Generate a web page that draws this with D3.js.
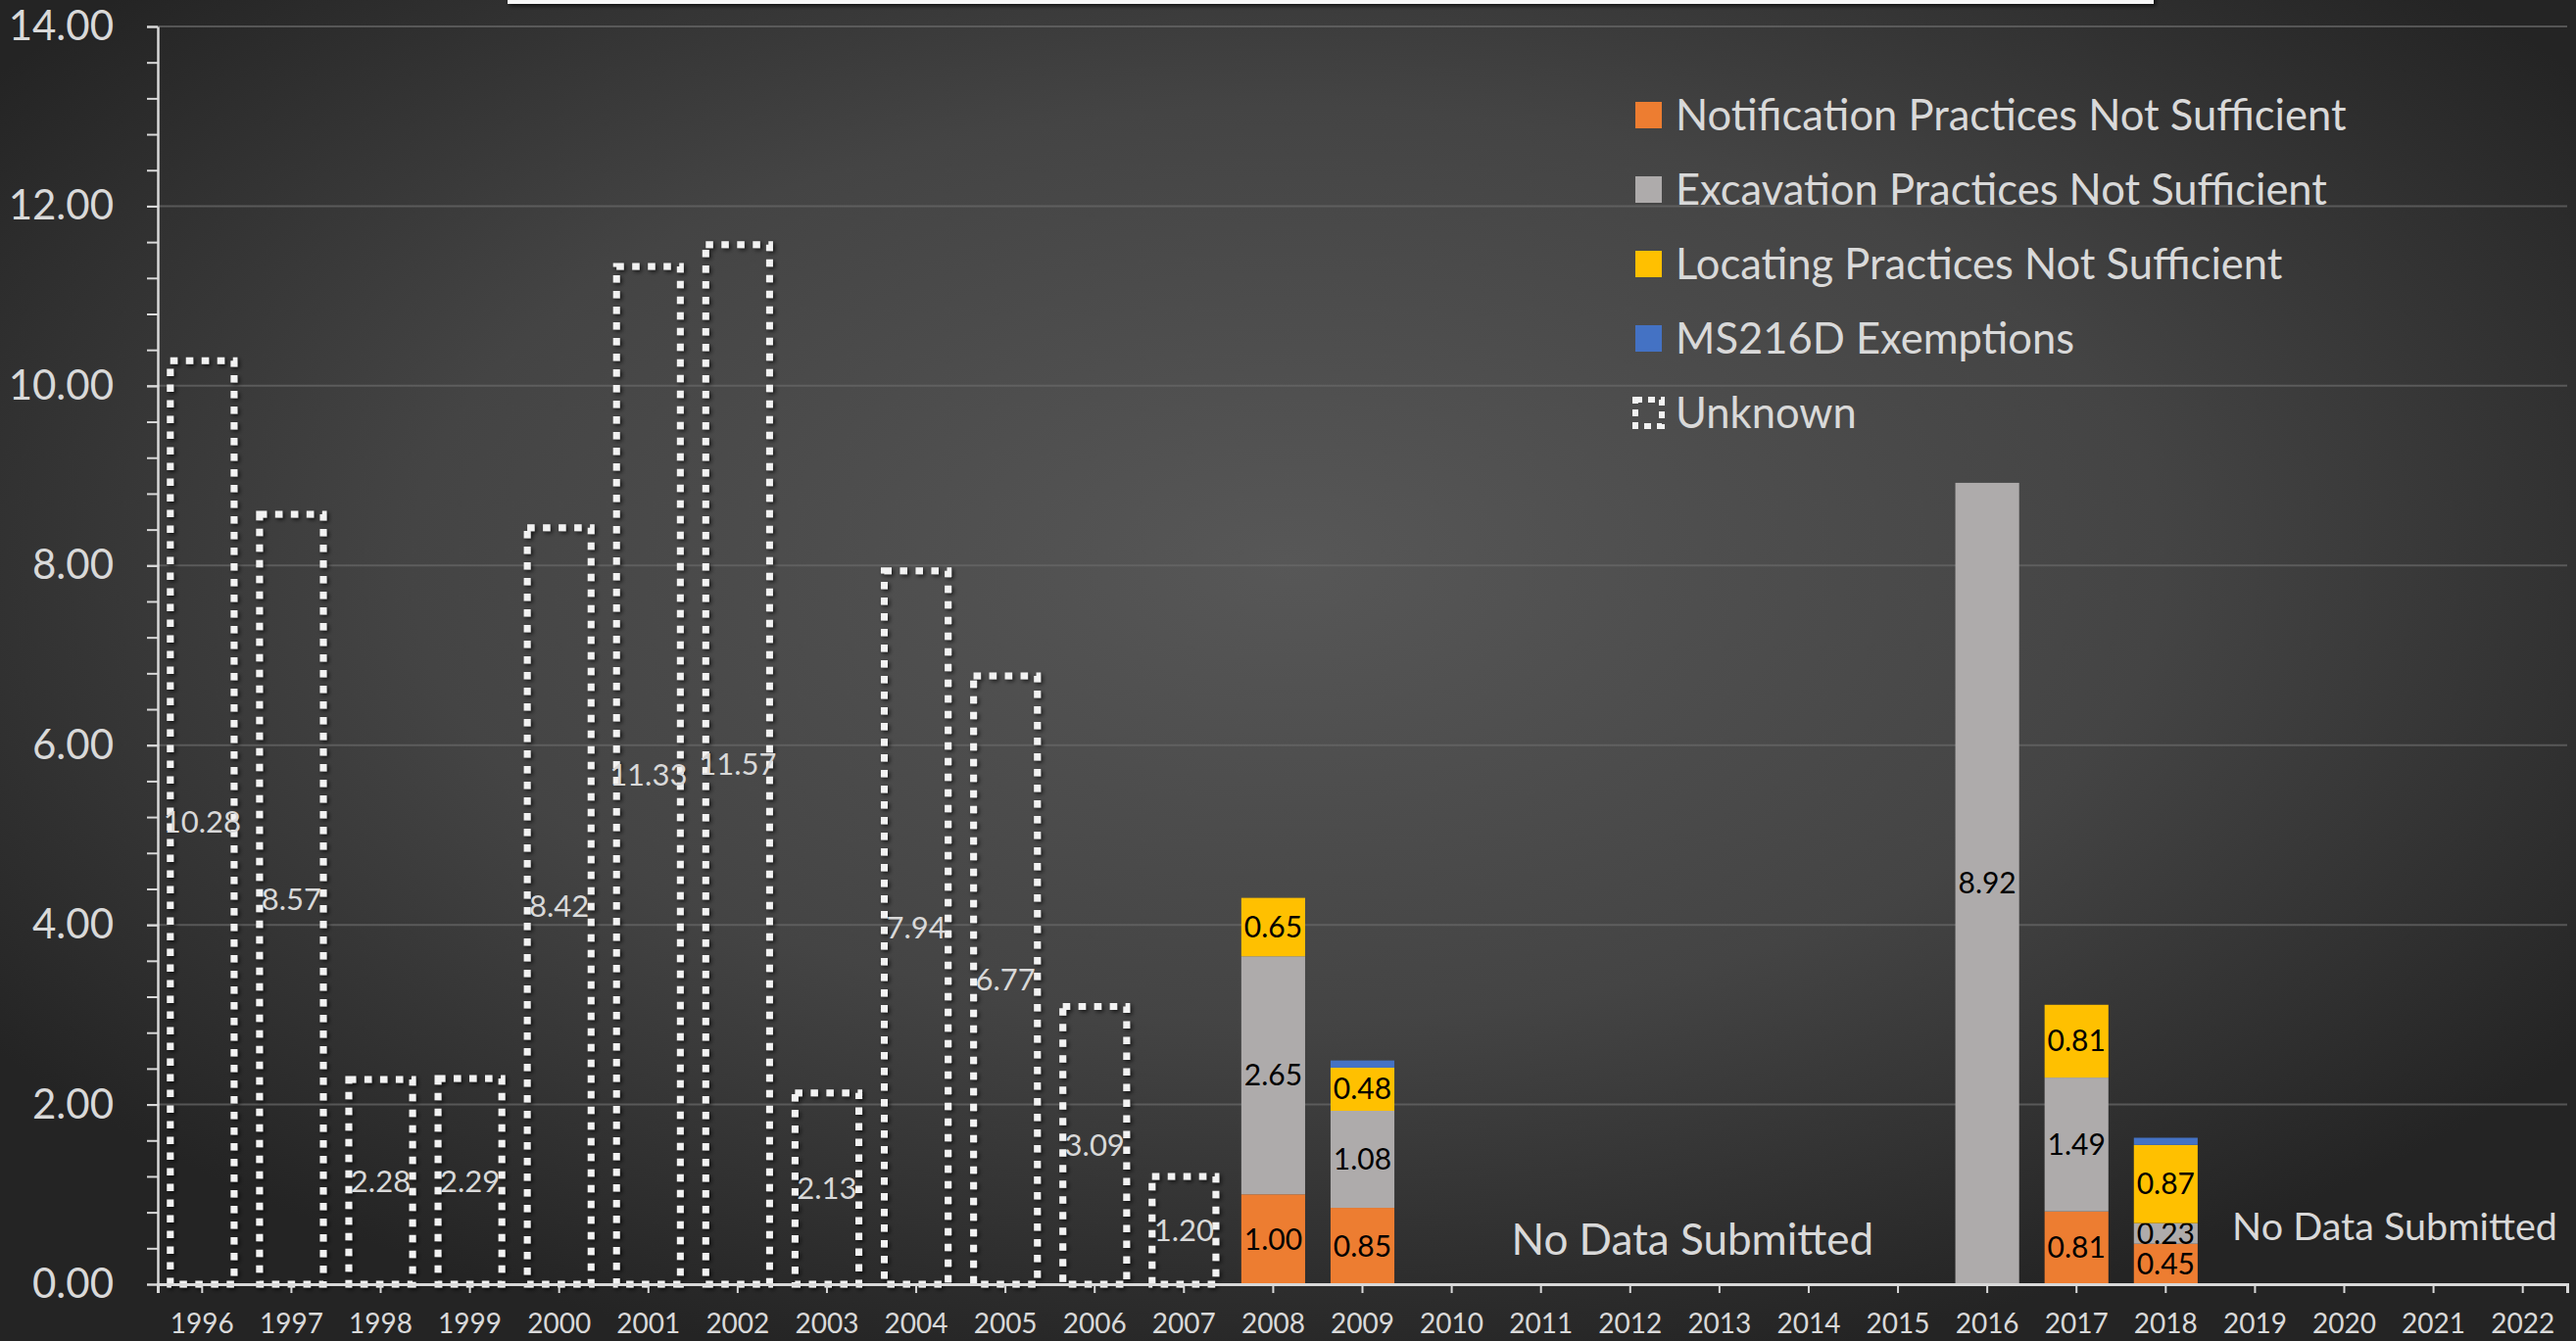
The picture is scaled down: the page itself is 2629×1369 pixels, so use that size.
<!DOCTYPE html>
<html>
<head>
<meta charset="utf-8">
<script src="https://cdn.jsdelivr.net/npm/d3@7"></script>
<style>
  body { margin: 0; background: #262626; }
  svg { display: block; }
  text { font-family: Lato, "Open Sans", sans-serif; }
</style>
</head>
<body>
<svg id="chart"></svg>
<script>
// categories
const years = ['1996', '1997', '1998', '1999', '2000', '2001', '2002', '2003', '2004', '2005', '2006', '2007', '2008',
  '2009', '2010', '2011', '2012', '2013', '2014', '2015', '2016', '2017', '2018', '2019', '2020', '2021', '2022'];

// series values, one per year (0 = nothing drawn)
const notification = [0, 0, 0, 0, 0, 0, 0, 0, 0, 0, 0, 0, 1.00, 0.85, 0, 0, 0, 0, 0, 0, 0, 0.81, 0.45, 0, 0, 0, 0];
const excavation = [0, 0, 0, 0, 0, 0, 0, 0, 0, 0, 0, 0, 2.65, 1.08, 0, 0, 0, 0, 0, 0, 8.92, 1.49, 0.23, 0, 0, 0, 0];
const locating = [0, 0, 0, 0, 0, 0, 0, 0, 0, 0, 0, 0, 0.65, 0.48, 0, 0, 0, 0, 0, 0, 0, 0.81, 0.87, 0, 0, 0, 0];
const exemptions = [0, 0, 0, 0, 0, 0, 0, 0, 0, 0, 0, 0, 0, 0.08, 0, 0, 0, 0, 0, 0, 0, 0, 0.08, 0, 0, 0, 0];
const unknown = [10.28, 8.57, 2.28, 2.29, 8.42, 11.33, 11.57, 2.13, 7.94, 6.77, 3.09, 1.20, 0, 0, 0, 0, 0, 0, 0, 0, 0, 0, 0, 0, 0, 0, 0];

const seriesNames = ['Notification Practices Not Sufficient', 'Excavation Practices Not Sufficient',
  'Locating Practices Not Sufficient', 'MS216D Exemptions'];
const seriesColors = ['#ED7D31', '#AEABAB', '#FFC000', '#4472C4'];
const yTicks = [0, 2, 4, 6, 8, 10, 12, 14];
const noDataNotes = [
  {text: 'No Data Submitted', from: '2010', to: '2015'},
  {text: 'No Data Submitted', from: '2019', to: '2022'}
];

const W = 2629, H = 1369;
const margin = {top: 27, right: 9, bottom: 58, left: 161};

const svg = d3.select('#chart').attr('width', W).attr('height', H);

// background
const defs = svg.append('defs');
const grad = defs.append('radialGradient').attr('id', 'bg')
  .attr('cx', 0.5).attr('cy', 0.42).attr('r', 0.62);
grad.append('stop').attr('offset', 0).attr('stop-color', '#575757');
grad.append('stop').attr('offset', 0.55).attr('stop-color', '#444');
grad.append('stop').attr('offset', 1).attr('stop-color', '#242424');

const shadow = defs.append('filter').attr('id', 'sh')
  .attr('x', -0.2).attr('y', -0.2).attr('width', 1.4).attr('height', 1.4);
shadow.append('feDropShadow').attr('dx', 2).attr('dy', 2).attr('stdDeviation', 2)
  .attr('flood-color', '#000').attr('flood-opacity', 0.7);

svg.append('rect').attr('width', W).attr('height', H).attr('fill', 'url(#bg)');

// title box (cut off at top of picture)
svg.append('rect').attr('x', 518).attr('y', -40).attr('width', 1680).attr('height', 44)
  .attr('fill', '#f7f7f7').attr('filter', 'url(#sh)');

const x = d3.scaleBand().domain(years)
  .range([margin.left, W - margin.right])
  .paddingInner(0.285).paddingOuter(0.14);
const y = d3.scaleLinear().domain([0, 14]).range([H - margin.bottom, margin.top]);

// gridlines
svg.append('g').selectAll('line').data(yTicks.slice(1)).join('line')
  .attr('x1', margin.left).attr('x2', W - margin.right)
  .attr('y1', d => y(d)).attr('y2', d => y(d))
  .attr('stroke', '#6a6a6a').attr('stroke-width', 2).attr('stroke-opacity', 0.7);

// y axis with minor ticks
const yMinor = svg.append('g').attr('transform', `translate(${margin.left},0)`)
  .call(d3.axisLeft(y).tickValues(d3.range(0, 14.001, 0.4)).tickSize(11).tickFormat(''));
yMinor.select('.domain').remove();
yMinor.selectAll('line').attr('stroke', '#d9d9d9').attr('stroke-width', 2);

const yAxis = svg.append('g').attr('transform', `translate(${margin.left},0)`)
  .call(d3.axisLeft(y).tickValues(yTicks).tickSize(11).tickSizeOuter(0).tickPadding(34)
    .tickFormat(d3.format('.2f')));
yAxis.select('.domain').attr('stroke', '#d9d9d9').attr('stroke-width', 2.5);
yAxis.selectAll('line').attr('stroke', '#d9d9d9').attr('stroke-width', 2);
yAxis.selectAll('text').attr('fill', '#d9d9d9').attr('font-size', 42);

// unknown bars, dashed outline
const unk = years.map((yr, i) => ({year: yr, v: unknown[i]})).filter(d => d.v > 0);
svg.append('g').attr('filter', 'url(#sh)').selectAll('rect').data(unk).join('rect')
  .attr('x', d => x(d.year)).attr('width', x.bandwidth())
  .attr('y', d => y(d.v)).attr('height', d => y(0) - y(d.v))
  .attr('fill', 'none').attr('stroke', '#f2f2f2').attr('stroke-width', 7)
  .attr('stroke-dasharray', '7.5,8.5');

svg.append('g').selectAll('text').data(unk).join('text')
  .attr('x', d => x(d.year) + x.bandwidth() / 2)
  .attr('y', d => y(d.v / 2)).attr('dy', '0.35em')
  .attr('text-anchor', 'middle').attr('font-size', 31)
  .attr('fill', '#d9d9d9').text(d => d.v.toFixed(2));

// stacked bars
const rows = years.map((yr, i) => ({
  year: yr, s0: notification[i], s1: excavation[i], s2: locating[i], s3: exemptions[i]
}));
const stacked = d3.stack().keys(['s0', 's1', 's2', 's3'])(rows);

stacked.forEach((layer, k) => {
  const segs = layer.filter(d => d[1] - d[0] > 0);
  svg.append('g').selectAll('rect').data(segs).join('rect')
    .attr('x', d => x(d.data.year)).attr('width', x.bandwidth())
    .attr('y', d => y(d[1])).attr('height', d => y(d[0]) - y(d[1]))
    .attr('fill', seriesColors[k]);
  if (k < 3) {
    svg.append('g').selectAll('text').data(segs).join('text')
      .attr('x', d => x(d.data.year) + x.bandwidth() / 2)
      .attr('y', d => y((d[0] + d[1]) / 2)).attr('dy', '0.35em')
      .attr('text-anchor', 'middle').attr('font-size', 30).attr('fill', '#000')
      .text(d => (d[1] - d[0]).toFixed(2));
  }
});

// x axis
const xAxis = svg.append('g').attr('transform', `translate(0,${y(0)})`)
  .call(d3.axisBottom(x).tickSize(9).tickSizeOuter(9).tickPadding(21));
xAxis.select('.domain').attr('stroke', '#d9d9d9').attr('stroke-width', 3);
xAxis.selectAll('line').attr('stroke', '#d9d9d9').attr('stroke-width', 2);
xAxis.selectAll('text').attr('fill', '#d9d9d9').attr('font-size', 28);

// "No Data Submitted" notes
svg.append('g').selectAll('text').data(noDataNotes).join('text')
  .attr('x', (d, i) => (x(d.from) + x(d.to) + x.bandwidth()) / 2 + (i === 0 ? 18 : 6))
  .attr('y', (d, i) => i === 0 ? 1281 : 1266)
  .attr('text-anchor', 'middle').attr('font-size', (d, i) => i === 0 ? 44 : 39.5)
  .attr('fill', '#d9d9d9').text(d => d.text);

// legend
const legend = svg.append('g').attr('transform', 'translate(1669,117)');
const items = seriesNames.map((n, i) => ({name: n, color: seriesColors[i]}))
  .concat([{name: 'Unknown', color: null}]);
const li = legend.selectAll('g').data(items).join('g')
  .attr('transform', (d, i) => `translate(0,${i * 76})`);
li.filter(d => d.color).append('rect')
  .attr('x', 0).attr('y', -13).attr('width', 27).attr('height', 27).attr('fill', d => d.color);
li.filter(d => !d.color).append('rect')
  .attr('x', 0).attr('y', -13).attr('width', 27).attr('height', 27)
  .attr('fill', 'none').attr('stroke', '#f2f2f2').attr('stroke-width', 6)
  .attr('stroke-dasharray', '7,6');
li.append('text').attr('x', 41).attr('dy', '0.36em')
  .attr('font-size', 43.5).attr('fill', '#d9d9d9').text(d => d.name);
</script>
</body>
</html>
